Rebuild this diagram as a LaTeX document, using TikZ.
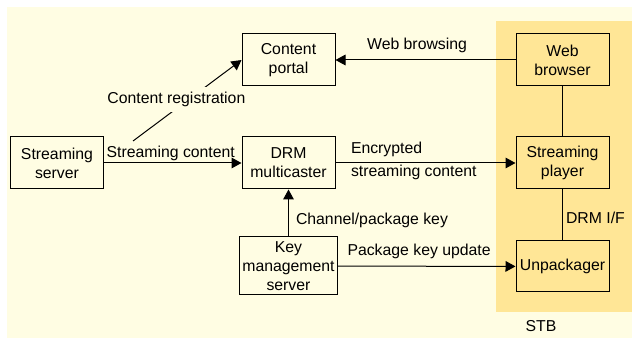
\documentclass[tikz,border=0pt]{standalone}
\usepackage{fontspec}
\setmainfont{Liberation Sans}
\usetikzlibrary{arrows.meta,positioning}
\definecolor{bgyel}{HTML}{FFFDE3}
\definecolor{stbyel}{HTML}{FFE696}
\tikzset{
  bx/.style={rectangle,draw,line width=0.75pt,fill=bgyel,minimum width=69.75pt,minimum height=39pt,align=center,inner sep=1pt,font=\fontsize{11.85}{14.25}\selectfont},
  sbx/.style={bx,fill=stbyel},
  arr/.style={-{Triangle[length=7.5pt,width=8pt]},line width=0.75pt},
  ln/.style={line width=0.75pt},
  lbl/.style={inner sep=1pt,font=\fontsize{11.85}{14.25}\selectfont},
}

\begin{document}
\begin{tikzpicture}[x=0.75pt,y=-0.75pt]
  \useasboundingbox (0,0) rectangle (632,338);
  \fill[bgyel] (7,7) rectangle (632,338);
  % set-top box area
  \fill[stbyel] (496,21) rectangle (632,312);
  \node[lbl] (stb) at (541,326) {STB};

  \node[bx] (portal) at (288.5,60) {Content\\portal};
  \node[sbx] (browser) at (562.5,60) {Web\\browser};
  \node[bx] (srv) at (57,163) {Streaming\\server};
  \node[bx] (drm) at (288.5,163) {DRM\\multicaster};
  \node[sbx] (player) at (562.5,163) {Streaming\\player};
  \node[bx,minimum width=73.5pt,minimum height=43.5pt] (kms) at (288.5,266) {Key\\management\\server};
  \node[sbx,minimum height=38.25pt] (unpack) at (562.5,266.5) {Unpackager};
  \coordinate (creg) at (133,141);

  \draw[arr] (browser) -- (portal) node[lbl,anchor=base,pos=0.547,yshift=7.5pt] {Web browsing};
  \draw[arr] (creg) -- (portal.west) node[lbl,fill=bgyel,inner ysep=3.75pt,pos=0.4,yshift=6.75pt] {Content registration};
  \draw[arr] (srv) -- (drm) node[lbl,anchor=base,midway,xshift=-1.5pt,yshift=3.75pt] {Streaming content};
  \draw[arr] (drm) -- (player)
    node[lbl,anchor=base west,pos=0,xshift=10.25pt,yshift=6.75pt] {Encrypted}
    node[lbl,anchor=base west,pos=0,xshift=10.25pt,yshift=-10.5pt] {streaming content};
  \draw[arr] (kms) -- (drm) node[lbl,anchor=base west,pos=0.25,xshift=4.25pt] {Channel/package key};
  \draw[arr] (kms) -- (unpack) node[lbl,anchor=base west,pos=0,xshift=5.75pt,yshift=8.25pt] {Package key update};
  \draw[ln] (browser) -- (player);
  \draw[ln] (player) -- (unpack) node[lbl,anchor=base west,pos=0.67,xshift=1.25pt] {DRM I/F};
\end{tikzpicture}
\end{document}
